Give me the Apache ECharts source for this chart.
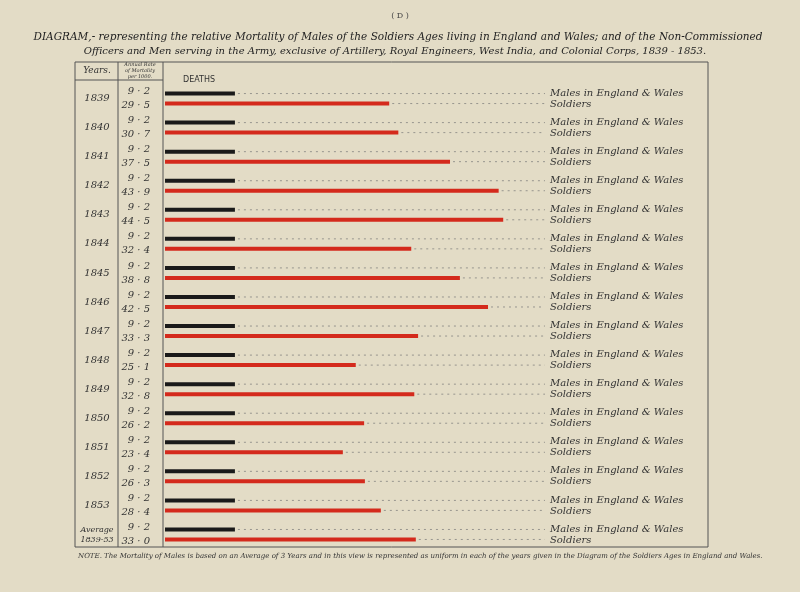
<!DOCTYPE html><html><head><meta charset="utf-8"><script src="https://cdn.jsdelivr.net/npm/echarts@6/dist/echarts.min.js"></script>
<style>html,body{margin:0;background:#e3dcc6}#c{width:800px;height:592px}</style></head><body><div id="c"></div><script>
const years=['1839','1840','1841','1842','1843','1844','1845','1846','1847','1848','1849','1850','1851','1852','1853','Average\n1839-53'];
const males=[9.2,9.2,9.2,9.2,9.2,9.2,9.2,9.2,9.2,9.2,9.2,9.2,9.2,9.2,9.2,9.2];
const soldiers=[29.5,30.7,37.5,43.9,44.5,32.4,38.8,42.5,33.3,25.1,32.8,26.2,23.4,26.3,28.4,33.0];
const fmt=v=>{const s=v.toFixed(1).split('.');return s[0]+' · '+s[1];};
const serif='"DejaVu Serif","Liberation Serif",serif';
const chart=echarts.init(document.getElementById('c'));
const opt={backgroundColor:'#e3dcc6',animation:false,
grid:{left:165,width:375,top:84,bottom:43},
xAxis:{type:'value',min:0,max:49.34,show:false},
yAxis:[{type:'category',data:years,inverse:true,axisLine:{show:false},axisTick:{show:false},axisLabel:{show:false}},
{type:'category',data:years,inverse:true,position:'right',axisLine:{show:false},axisTick:{show:false},
 axisLabel:{margin:10,formatter:()=>'{a|Males in England & Wales}\n{b|Soldiers}',rich:{a:{fontFamily:serif,fontStyle:'italic',fontSize:10,color:'#333',lineHeight:11},b:{fontFamily:serif,fontStyle:'italic',fontSize:10,color:'#333',lineHeight:11}}}}],
series:[{type:'bar',data:males,barWidth:4,barGap:'150%',itemStyle:{color:'#1a1a1a'}},
{type:'bar',data:soldiers,barWidth:4,itemStyle:{color:'#d42a1c'}}],
graphic:[]};
chart.setOption(opt);
const g=[
{type:'rect',shape:{x:75,y:62,width:633,height:485},style:{fill:'none',stroke:'#555',lineWidth:1}},
{type:'line',shape:{x1:118,y1:62,x2:118,y2:547},style:{stroke:'#555'}},
{type:'line',shape:{x1:163,y1:62,x2:163,y2:547},style:{stroke:'#555'}},
{type:'line',shape:{x1:75,y1:80,x2:163,y2:80},style:{stroke:'#555'}},
{type:'text',x:97,y:71,style:{text:'Years.',fontFamily:serif,fontStyle:'italic',fontSize:9,fill:'#333',align:'center',verticalAlign:'middle'}},
{type:'text',x:140,y:71,style:{text:'Annual Rate\nof Mortality\nper 1000.',fontFamily:serif,fontStyle:'italic',fontSize:5,lineHeight:6,fill:'#333',align:'center',verticalAlign:'middle'}},
{type:'text',x:183,y:80,style:{text:'DEATHS',fontFamily:'DejaVu Sans',fontSize:8,fill:'#333',verticalAlign:'middle'}},
{type:'text',x:400,y:12,style:{text:'( D )',fontFamily:serif,fontSize:8,fill:'#444',align:'center'}},
{type:'text',x:398,y:37,style:{text:"DIAGRAM,- representing the relative Mortality of Males of the Soldiers Ages living in England and Wales; and of the Non-Commissioned",fontFamily:serif,fontStyle:'italic',fontSize:10.5,fill:'#222',align:'center',verticalAlign:'middle'}},
{type:'text',x:395,y:51,style:{text:"Officers and Men serving in the Army, exclusive of Artillery, Royal Engineers, West India, and Colonial Corps, 1839 - 1853.",fontFamily:serif,fontStyle:'italic',fontSize:10,fill:'#222',align:'center',verticalAlign:'middle'}},
{type:'text',x:78,y:556,style:{text:'NOTE. The Mortality of Males is based on an Average of 3 Years and in this view is represented as uniform in each of the years given in the Diagram of the Soldiers Ages in England and Wales.',fontFamily:serif,fontStyle:'italic',fontSize:7,fill:'#333',verticalAlign:'middle'}}];
years.forEach((y,i)=>{const cy=chart.convertToPixel({yAxisIndex:0},i);
 g.push({type:'text',x:97,y:cy,style:{text:y,fontFamily:serif,fontStyle:'italic',fontSize:i==15?8:10,lineHeight:10,fill:'#333',align:'center',verticalAlign:'middle'}});
 g.push({type:'text',x:150,y:cy,style:{text:fmt(males[i])+'\n'+fmt(soldiers[i]),fontFamily:serif,fontStyle:'italic',fontSize:10,lineHeight:14,fill:'#333',align:'right',verticalAlign:'middle'}});
 const xs=chart.convertToPixel({xAxisIndex:0},males[i]),xr=chart.convertToPixel({xAxisIndex:0},soldiers[i]);
 g.push({type:'line',shape:{x1:xs+3,y1:cy-5,x2:545,y2:cy-5},style:{stroke:'#777',lineDash:[2,4],lineWidth:0.7}});
 g.push({type:'line',shape:{x1:xr+3,y1:cy+5,x2:545,y2:cy+5},style:{stroke:'#777',lineDash:[2,4],lineWidth:0.7}});
});
chart.setOption({graphic:g});
</script></body></html>
